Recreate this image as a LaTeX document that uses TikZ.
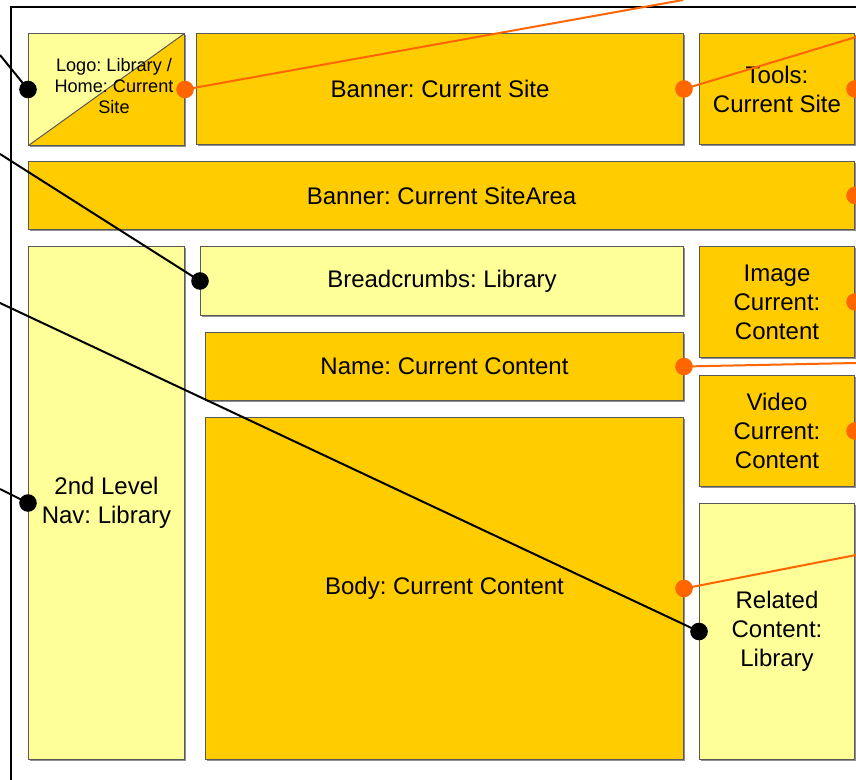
\documentclass[tikz,border=0pt]{standalone}
\usepackage{fontspec}
\setmainfont{Liberation Sans}
\usetikzlibrary{shadows}
\frenchspacing

\definecolor{paleyellow}{RGB}{255,255,153}
\definecolor{sitegold}{RGB}{255,204,0}
\definecolor{linkorange}{RGB}{255,102,0}

\tikzset{
  region/.style={draw=black!65, line width=0.75pt, inner sep=0pt, anchor=north west, align=center,
    font=\fontsize{18}{21.75}\selectfont,
    drop shadow={shadow xshift=0.9pt, shadow yshift=-0.9pt, fill=black!55, opacity=0.8}},
  sitebox/.style={region, fill=sitegold},
  libbox/.style={region, fill=paleyellow},
  boxsize/.style 2 args={minimum width=#1*0.75pt, minimum height=#2*0.75pt},
  libline/.style={black, line width=1.5pt},
  siteline/.style={linkorange, line width=1.5pt},
}

\begin{document}
\begin{tikzpicture}[x=0.75pt,y=0.75pt,yscale=-1,xscale=1]
	\useasboundingbox (0,0) rectangle (856,780);
	
	%Shape: page frame
	\draw [line width=0.9pt] (856,7) -- (11,7) -- (11,780) ;
	
	%Shape: Rectangle [logo, half library / half site]
	\node (logo) [libbox, boxsize={156}{112},
	  path picture={\fill [sitegold] (path picture bounding box.south west) -- (path picture bounding box.south east) -- (path picture bounding box.north east) -- cycle ;
	    \draw [line width=0.75pt] (path picture bounding box.south west) -- (path picture bounding box.north east) ;}] at (28,33) {};
	% Text Node
	\node (logotext) [align=center, inner sep=0pt, font=\fontsize{13.6}{15.75}\selectfont] at (114,86) {Logo: Library /\\Home: Current\\Site};
	
	%Shape: Rectangle [top row]
	\node (banner) [sitebox, boxsize={487}{111}] at (196,33) {Banner: Current Site};
	\node (tools) [sitebox, boxsize={155}{111}] at (699,33) {Tools:\\Current Site};
	\node (sitearea) [sitebox, boxsize={826}{68}] at (28,161) {Banner: Current SiteArea};
	
	%Shape: Rectangle [left column]
	\node (nav) [libbox, boxsize={156}{513}] at (28,246) {2nd Level\\Nav: Library};
	
	%Shape: Rectangle [middle column]
	\node (crumbs) [libbox, boxsize={483}{69}] at (200,246) {Breadcrumbs: Library};
	\node (name) [sitebox, boxsize={478}{68}] at (205,332) {Name: Current Content};
	\node (body) [sitebox, boxsize={478}{342}] at (205,417) {Body: Current Content};
	
	%Shape: Rectangle [right column]
	\node (image) [sitebox, boxsize={155}{111}] at (699,246) {Image\\Current:\\Content};
	\node (video) [sitebox, boxsize={155}{111}] at (699,375) {Video\\Current:\\Content};
	\node (related) [libbox, boxsize={155}{256}] at (699,503) {Related\\Content:\\Library};
	
	%Free ends of the callout lines
	\coordinate (logoleft) at (0,55);
	\coordinate (logoright) at (683,0);
	\coordinate (bannerright) at (856,37);
	\coordinate (crumbsleft) at (0,154);
	\coordinate (relatedleft) at (0,303);
	\coordinate (nameright) at (856,363);
	\coordinate (navleft) at (0,489);
	\coordinate (bodyright) at (856,555);
	
	%Straight Lines [library callouts]
	\draw [libline] (logoleft) -- (logo.west) ;
	\draw [libline] (crumbsleft) -- (crumbs.west) ;
	\draw [libline] (navleft) -- (nav.west) ;
	\draw [libline] (relatedleft) -- (related.west) ;
	%Straight Lines [site callouts]
	\draw [siteline] (logo.east) -- (logoright) ;
	\draw [siteline] (banner.east) -- (bannerright) ;
	\draw [siteline] (name.east) -- (nameright) ;
	\draw [siteline] (body.east) -- (bodyright) ;
	
	%Dots
	\foreach \n in {logo,crumbs,nav,related}
	  \fill [black] (\n.west) circle (6.6pt) ;
	\foreach \n in {logo,banner,tools,sitearea,image,name,video,body}
	  \fill [linkorange] (\n.east) circle (6.6pt) ;
	
\end{tikzpicture}
\end{document}
